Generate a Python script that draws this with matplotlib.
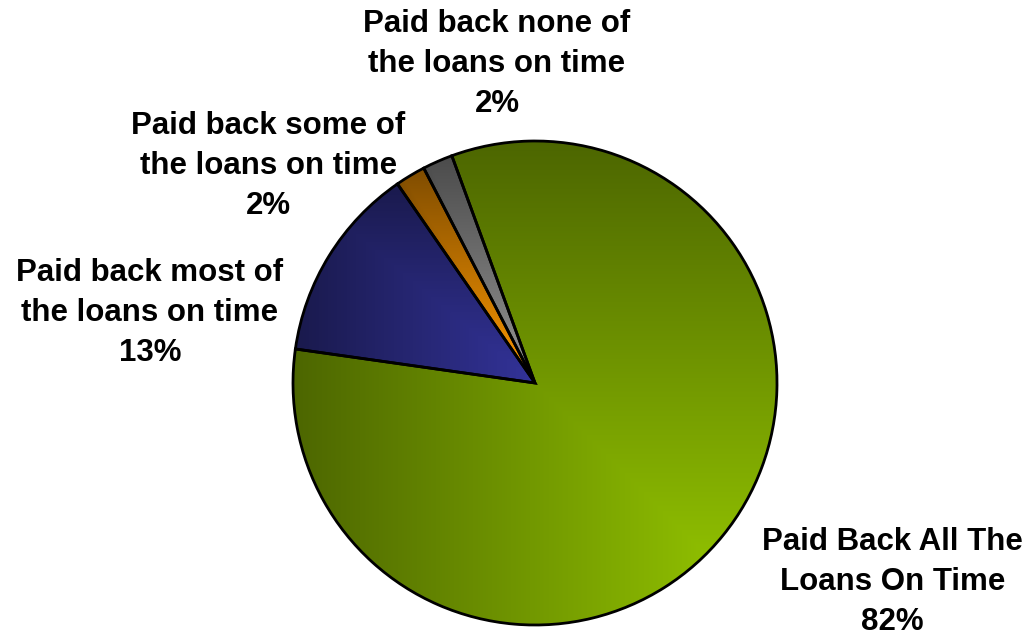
import numpy as np
import matplotlib
matplotlib.use("Agg")
import matplotlib.pyplot as plt
from matplotlib.colors import to_rgb

# Loan repayment breakdown
categories = [
    "Paid Back All The\nLoans On Time",
    "Paid back most of\nthe loans on time",
    "Paid back some of\nthe loans on time",
    "Paid back none of\nthe loans on time",
]
percentages = [82, 13, 2, 2]
base_colors = ["#99cc00", "#333399", "#ff9900", "#969696"]

# Label anchor points (block centres) in pie-radius units
label_pos = [(1.478, -0.822), (-1.591, 0.289), (-1.103, 0.897), (-0.157, 1.318)]

W, H, DPI = 1030, 639, 100
cx, cy, r = 535.0, 383.0, 242.0

fig = plt.figure(figsize=(W / DPI, H / DPI), dpi=DPI)
ax = fig.add_axes([0, 0, 1, 1])

wedges, _ = ax.pie(
    percentages,
    colors=base_colors,
    startangle=110.1,
    counterclock=False,
    radius=1.0,
    wedgeprops=dict(edgecolor="black", linewidth=2.0),
)

ax.set_xlim(-cx / r, (W - cx) / r)
ax.set_ylim(-(H - cy) / r, cy / r)
ax.set_aspect("auto")
ax.axis("off")

# "From corner" gradient fill for each slice: full colour at the lower-right
# corner of the slice's bounding box, fading to half brightness at the far edges.
n = 500
for w, col in zip(wedges, base_colors):
    ext = w.get_path().get_extents()
    x0, y0, x1, y1 = ext.x0, ext.y0, ext.x1, ext.y1
    xs = np.linspace(x0, x1, n)
    ys = np.linspace(y0, y1, n)
    X, Y = np.meshgrid(xs, ys)
    t = np.maximum((x1 - X) / (x1 - x0), (Y - y0) / (y1 - y0))
    shade = 1.0 - 0.5 * t
    rgb = np.asarray(to_rgb(col))[None, None, :] * shade[..., None]
    im = ax.imshow(rgb, extent=(x0, x1, y0, y1), origin="lower",
                   interpolation="bilinear", zorder=w.get_zorder() - 0.1,
                   aspect="auto")
    im.set_clip_path(w)
    w.set_facecolor("none")

for (lx, ly), cat, pct in zip(label_pos, categories, percentages):
    ax.text(lx, ly, f"{cat}\n{pct}%", ha="center", va="center",
            multialignment="center", fontsize=22.5, fontweight="bold",
            family=["Liberation Sans", "DejaVu Sans"], linespacing=1.42,
            color="black")

fig.savefig("out.png", dpi=DPI)
